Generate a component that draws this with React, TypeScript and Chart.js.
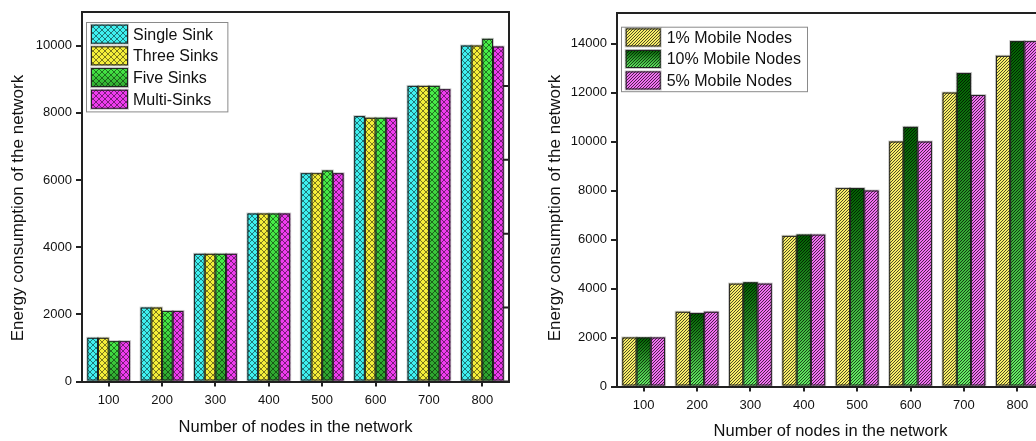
import React, { useEffect, useRef } from 'react';
import { Chart, registerables } from 'chart.js';

Chart.register(...registerables);

const FONT = '"Liberation Sans", Arial, Helvetica, sans-serif';
Chart.defaults.font.family = FONT;

// ---------- data ----------
const categories = ['100', '200', '300', '400', '500', '600', '700', '800'];

const leftSeriesNames = ['Single Sink', 'Three Sinks', 'Five Sinks', 'Multi-Sinks'];
const singleSink = [1300, 2200, 3800, 5000, 6200, 7900, 8800, 10000];
const threeSinks = [1300, 2200, 3800, 5000, 6200, 7850, 8800, 10000];
const fiveSinks = [1200, 2100, 3800, 5000, 6280, 7850, 8800, 10200];
const multiSinks = [1200, 2100, 3800, 5000, 6200, 7850, 8700, 9970];

const rightSeriesNames = ['1% Mobile Nodes', '10% Mobile Nodes', '5% Mobile Nodes'];
const mobile1 = [2000, 3050, 4200, 6150, 8100, 10000, 12000, 13500];
const mobile10 = [2000, 3000, 4250, 6200, 8100, 10600, 12800, 14100];
const mobile5 = [2000, 3050, 4200, 6200, 8000, 10000, 11900, 14100];

const leftYMax = 11000;
const rightYMax = 15250;
const leftYTicks = [0, 2000, 4000, 6000, 8000, 10000];
const rightYTicks = [0, 2000, 4000, 6000, 8000, 10000, 12000, 14000];
const leftRightAxisMax = 5; // unlabeled right axis of left panel
const leftRightAxisTicks = [0, 1, 2, 3, 4, 5];

const xTitle = 'Number of nodes in the network';
const yTitle = 'Energy consumption of the network';

// ---------- styles ----------
type Fill = { color: string; gradient?: [string, string]; pattern: 'cross' | 'diag' };

const leftFills: Fill[] = [
  { color: '#3ff0f0', pattern: 'cross' },
  { color: '#f4ee3a', pattern: 'cross' },
  { color: '#3ee23e', gradient: ['#48f048', '#2ea52e'], pattern: 'cross' },
  { color: '#ee3cee', pattern: 'cross' },
];
const rightFills: Fill[] = [
  { color: '#f8ee6a', pattern: 'diag' },
  { color: '#2a9a2a', gradient: ['#005f00', '#66f066'], pattern: 'diag' },
  { color: '#f070f0', pattern: 'diag' },
];

function makePattern(ctx: CanvasRenderingContext2D, kind: 'cross' | 'diag') {
  const c = document.createElement('canvas');
  const n = kind === 'cross' ? 6 : 3;
  c.width = n;
  c.height = n;
  const g = c.getContext('2d')!;
  if (kind === 'cross') {
    g.fillStyle = 'rgba(0,0,0,0.5)';
    for (let i = 0; i < n; i++) {
      g.fillRect(i, i, 1, 1);
      g.fillRect(i, n - 1 - i, 1, 1);
    }
  } else {
    g.fillStyle = 'rgba(0,0,0,0.68)';
    for (let i = 0; i < n; i++) g.fillRect(i, n - 1 - i, 1, 1);
  }
  return ctx.createPattern(c, 'repeat')!;
}

function paintRect(ctx: CanvasRenderingContext2D, f: Fill, l: number, t: number, w: number, h: number) {
  ctx.save();
  if (f.gradient) {
    const g = ctx.createLinearGradient(l, t, l, t + h);
    g.addColorStop(0, f.gradient[0]);
    g.addColorStop(1, f.gradient[1]);
    ctx.fillStyle = g;
  } else {
    ctx.fillStyle = f.color;
  }
  ctx.fillRect(l, t, w, h);
  ctx.fillStyle = makePattern(ctx, f.pattern);
  ctx.fillRect(l, t, w, h);
  ctx.strokeStyle = 'rgba(0,0,0,0.22)';
  ctx.lineWidth = 1;
  ctx.strokeRect(l - 0.5, t - 0.5, w + 1, h + 1);
  ctx.strokeStyle = '#222';
  ctx.strokeRect(l + 0.5, t + 0.5, w - 1, h - 1);
  ctx.restore();
}

type LegendCfg = {
  dx: number; dy: number; padL: number; swW: number; swH: number; gap: number;
  rowH: number; padT: number; padR: number;
};
type YTitleCfg = { x: number; cy: number; size: number };

function makeDecor(fills: Fill[], legend: LegendCfg, yt: YTitleCfg) {
  return {
    id: 'decor',
    afterDatasetsDraw(chart: any) {
      const ctx = chart.ctx as CanvasRenderingContext2D;
      chart.data.datasets.forEach((_ds: any, di: number) => {
        const meta = chart.getDatasetMeta(di);
        meta.data.forEach((el: any) => {
          const p = el.getProps(['x', 'y', 'base', 'width'], true);
          const l = p.x - p.width / 2;
          const t = Math.min(p.y, p.base);
          const h = Math.abs(p.base - p.y);
          paintRect(ctx, fills[di], l, t, p.width, h);
        });
      });
    },
    afterDraw(chart: any) {
      const ctx = chart.ctx as CanvasRenderingContext2D;
      const { left, right, top, bottom } = chart.chartArea;
      ctx.save();
      ctx.strokeStyle = '#222';
      ctx.lineWidth = 2;
      ctx.beginPath();
      ctx.moveTo(left - 1, top);
      ctx.lineTo(right + 1, top);
      ctx.moveTo(right, top);
      ctx.lineTo(right, bottom);
      const y2 = chart.scales.y2;
      if (y2) {
        y2.ticks.forEach((tk: any) => {
          const py = y2.getPixelForValue(tk.value);
          ctx.moveTo(right, py);
          ctx.lineTo(right - 6, py);
        });
      }
      ctx.stroke();
      ctx.restore();

      // y title
      ctx.save();
      ctx.font = `${yt.size}px ${FONT}`;
      ctx.fillStyle = '#111';
      ctx.translate(yt.x, yt.cy);
      ctx.rotate(-Math.PI / 2);
      ctx.textAlign = 'center';
      ctx.textBaseline = 'middle';
      ctx.fillText(yTitle, 0, 0);
      ctx.restore();

      // legend
      ctx.save();
      ctx.font = `16px ${FONT}`;
      const labels: string[] = chart.data.datasets.map((d: any) => d.label);
      const maxW = Math.max(...labels.map((s) => ctx.measureText(s).width));
      const bx = left + legend.dx;
      const by = top + legend.dy;
      const bw = legend.padL + legend.swW + legend.gap + maxW + legend.padR;
      const bh = legend.padT * 2 + labels.length * legend.rowH;
      ctx.fillStyle = '#fff';
      ctx.fillRect(bx, by, bw, bh);
      ctx.strokeStyle = '#8a8a8a';
      ctx.lineWidth = 1;
      ctx.strokeRect(bx + 0.5, by + 0.5, bw, bh);
      labels.forEach((lab, i) => {
        const cy = by + legend.padT + legend.rowH * (i + 0.5);
        paintRect(ctx, fills[i], bx + legend.padL, cy - legend.swH / 2, legend.swW, legend.swH);
        ctx.fillStyle = '#111';
        ctx.textBaseline = 'middle';
        ctx.textAlign = 'left';
        ctx.fillText(lab, bx + legend.padL + legend.swW + legend.gap, cy + 1);
      });
      ctx.restore();
    },
  };
}

function buildConfig(opts: {
  names: string[]; series: number[][]; fills: Fill[]; yMax: number; yTicks: number[];
  padTop: number; padRight: number; yWidth: number; xHeight: number;
  xTitlePad: number; legend: LegendCfg; yTitle: YTitleCfg; rightAxis: boolean;
}): any {
  const scales: any = {
    x: {
      type: 'category',
      offset: true,
      grid: { display: true, drawOnChartArea: false, drawTicks: true, tickLength: 5, offset: false, color: '#222', lineWidth: 2 },
      border: { display: true, color: '#222', width: 2 },
      ticks: { font: { size: 13 }, color: '#111', padding: 6 },
      title: { display: true, text: xTitle, font: { size: 16.5 }, color: '#111', padding: { top: 0, bottom: opts.xTitlePad } },
      afterFit: (s: any) => { s.height = opts.xHeight; },
    },
    y: {
      type: 'linear',
      min: 0,
      max: opts.yMax,
      afterBuildTicks: (s: any) => { s.ticks = opts.yTicks.map((v) => ({ value: v })); },
      ticks: { font: { size: 13 }, color: '#111', padding: 4, callback: (v: any) => String(v) },
      grid: { drawOnChartArea: false, tickLength: 6, color: '#222', lineWidth: 2 },
      border: { display: true, color: '#222', width: 2 },
      title: { display: false },
      afterFit: (s: any) => { s.width = opts.yWidth; },
    },
  };
  if (opts.rightAxis) {
    scales.y2 = {
      type: 'linear',
      position: 'right',
      min: 0,
      max: leftRightAxisMax,
      afterBuildTicks: (s: any) => { s.ticks = leftRightAxisTicks.map((v) => ({ value: v })); },
      ticks: { display: false },
      grid: { display: false },
      border: { display: false },
      afterFit: (s: any) => { s.width = 0; },
    };
  }
  return {
    type: 'bar',
    data: {
      labels: categories,
      datasets: opts.names.map((n, i) => ({
        label: n,
        data: opts.series[i],
        backgroundColor: opts.fills[i].color,
        borderColor: '#222',
        borderWidth: 1,
        categoryPercentage: 0.8,
        barPercentage: 1,
      })),
    },
    options: {
      responsive: false,
      animation: false,
      layout: { padding: { left: 0, right: opts.padRight, top: opts.padTop, bottom: 0 } },
      plugins: { legend: { display: false }, tooltip: { enabled: false } },
      scales,
    },
    plugins: [makeDecor(opts.fills, opts.legend, opts.yTitle)],
  };
}

export default function App() {
  const leftRef = useRef<HTMLCanvasElement>(null);
  const rightRef = useRef<HTMLCanvasElement>(null);

  useEffect(() => {
    const left = new Chart(leftRef.current!, buildConfig({
      names: leftSeriesNames,
      series: [singleSink, threeSinks, fiveSinks, multiSinks],
      fills: leftFills,
      yMax: leftYMax,
      yTicks: leftYTicks,
      padTop: 12,
      padRight: 21,
      yWidth: 82,
      xHeight: 59.5,
      xTitlePad: 3.5,
      legend: { dx: 4, dy: 10, padL: 5, swW: 37, swH: 19, gap: 5, rowH: 21.7, padT: 1.3, padR: 9 },
      yTitle: { x: 18, cy: 208, size: 17 },
      rightAxis: true,
    }));
    const right = new Chart(rightRef.current!, buildConfig({
      names: rightSeriesNames,
      series: [mobile1, mobile10, mobile5],
      fills: rightFills,
      yMax: rightYMax,
      yTicks: rightYTicks,
      padTop: 13,
      padRight: 86,
      yWidth: 87,
      xHeight: 54.5,
      xTitlePad: 0,
      legend: { dx: 4, dy: 13.7, padL: 4.7, swW: 35, swH: 18, gap: 6, rowH: 21.5, padT: 0, padR: 6 },
      yTitle: { x: 25, cy: 208, size: 17 },
      rightAxis: false,
    }));
    return () => {
      left.destroy();
      right.destroy();
    };
  }, []);

  return (
    <div style={{ position: 'fixed', left: 0, top: 0, width: 1036, height: 441, overflow: 'hidden', background: '#fff' }}>
      <div style={{ position: 'absolute', left: 0, top: 0, width: 530, height: 441 }}>
        <canvas ref={leftRef} width={530} height={441} style={{ width: 530, height: 441, display: 'block' }} />
      </div>
      <div style={{ position: 'absolute', left: 530, top: 0, width: 600, height: 441 }}>
        <canvas ref={rightRef} width={600} height={441} style={{ width: 600, height: 441, display: 'block' }} />
      </div>
    </div>
  );
}
